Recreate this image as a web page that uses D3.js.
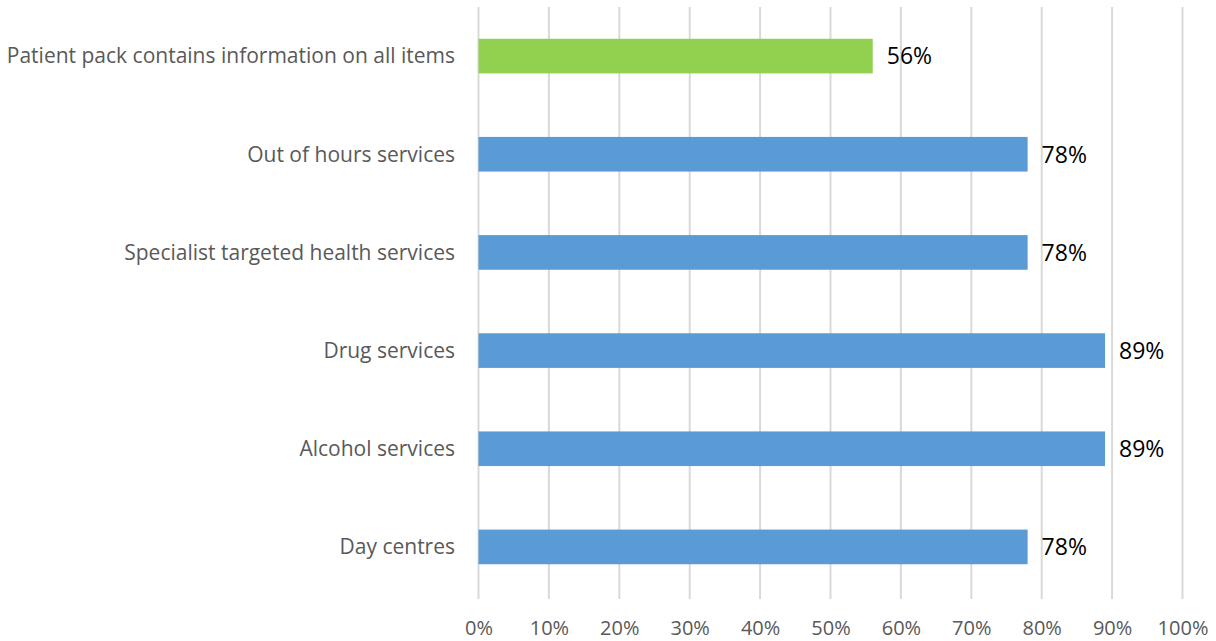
<!DOCTYPE html>
<html>
<head>
<meta charset="utf-8">
<script src="https://cdn.jsdelivr.net/npm/d3@7"></script>
<style>
  html, body { margin: 0; padding: 0; background: #fff; }
  svg { display: block; }
  text { font-family: "Open Sans", "DejaVu Sans", sans-serif; }
</style>
</head>
<body>
<svg id="chart" width="1216" height="641"></svg>
<script>
// Share of patient packs with information on each service (%)
const categories = [
  "Patient pack contains information on all items",
  "Out of hours services",
  "Specialist targeted health services",
  "Drug services",
  "Alcohol services",
  "Day centres"
];
const values = [56, 78, 78, 89, 89, 78];
const barColors = ["#92D050", "#5B9BD5", "#5B9BD5", "#5B9BD5", "#5B9BD5", "#5B9BD5"];
const tickValues = [0, 10, 20, 30, 40, 50, 60, 70, 80, 90, 100];

const svg = d3.select("#chart");
const margin = { left: 478.5, right: 33.5, top: 7, bottom: 45 };
const W = 1216, H = 641;

const x = d3.scaleLinear().domain([0, 100]).range([margin.left, W - margin.right]);
const y = d3.scaleBand().domain(categories)
  .range([margin.top, 596])
  .paddingInner(0.647).paddingOuter(0.3235);

// vertical gridlines
svg.append("g").selectAll("line").data(tickValues).join("line")
  .attr("x1", d => x(d)).attr("x2", d => x(d))
  .attr("y1", margin.top).attr("y2", 599)
  .attr("stroke", "#D9D9D9").attr("stroke-width", 2);

// x axis tick labels
const xAxis = d3.axisBottom(x).tickValues(tickValues).tickFormat(d => d + "%").tickSize(0).tickPadding(0);
const gx = svg.append("g").attr("transform", "translate(0,635)").call(xAxis);
gx.select(".domain").remove();
gx.selectAll("text")
  .attr("dy", 0).attr("y", 0)
  .style("font-family", '"Open Sans", sans-serif')
  .style("font-size", "20px").attr("fill", "#595959");

// category labels
svg.append("g").selectAll("text").data(categories).join("text")
  .attr("x", 455)
  .attr("y", d => y(d) + y.bandwidth() / 2)
  .attr("dy", "0.35em")
  .attr("text-anchor", "end")
  .attr("fill", "#595959")
  .style("font-size", "21px")
  .text(d => d);

// bars
svg.append("g").selectAll("rect").data(values).join("rect")
  .attr("x", x(0))
  .attr("y", (d, i) => y(categories[i]))
  .attr("width", d => x(d) - x(0))
  .attr("height", y.bandwidth())
  .attr("fill", (d, i) => barColors[i]);

// value labels
svg.append("g").selectAll("text").data(values).join("text")
  .attr("x", d => x(d) + 14)
  .attr("y", (d, i) => y(categories[i]) + y.bandwidth() / 2)
  .attr("dy", "0.36em")
  .attr("fill", "#000")
  .style("font-size", "23px")
  .text(d => d + "%");
</script>
</body>
</html>
